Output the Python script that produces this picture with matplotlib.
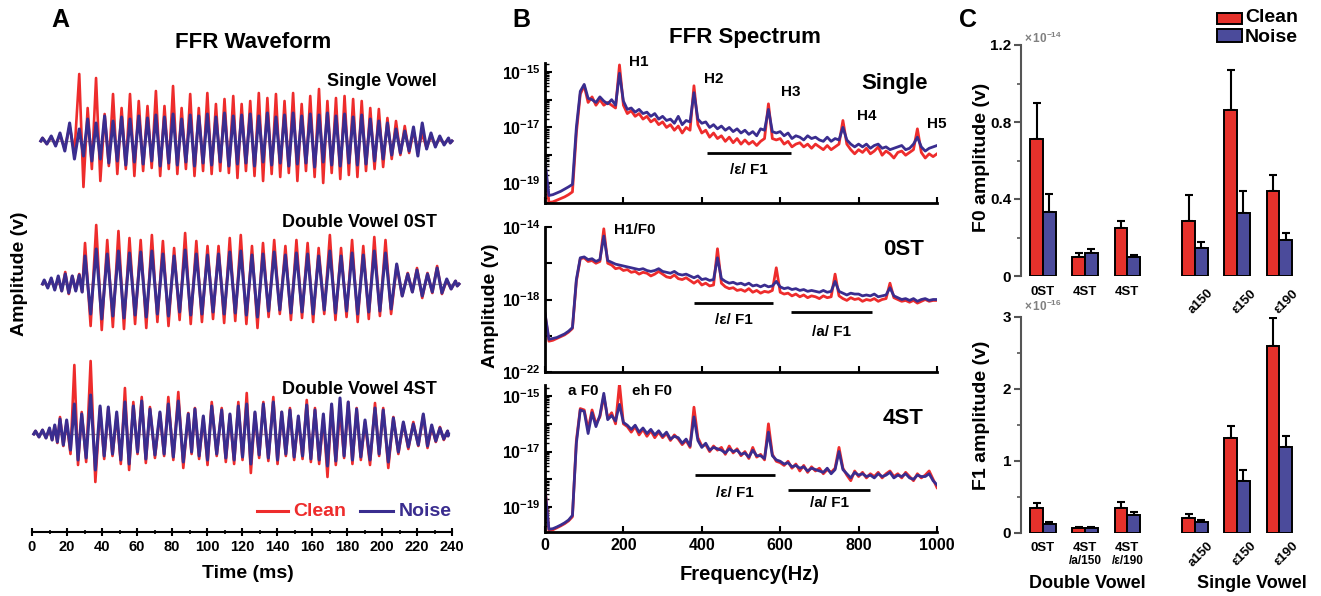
import numpy as np
import matplotlib
matplotlib.use("Agg")
import matplotlib.pyplot as plt
from matplotlib.lines import Line2D
from matplotlib.patches import Rectangle
from matplotlib.ticker import FixedLocator, FuncFormatter, NullFormatter

plt.rcParams["font.family"] = ["Liberation Sans", "DejaVu Sans"]
plt.rcParams["font.weight"] = "bold"
plt.rcParams["mathtext.fontset"] = "custom"
plt.rcParams["mathtext.rm"] = "Liberation Sans"
plt.rcParams["mathtext.bf"] = "Liberation Sans:bold"
plt.rcParams["axes.linewidth"] = 1.5

W, H = 1321, 596
RED = "#EE2C2C"
BLUE = "#3A2D8F"
BAR_RED = "#E5312B"
BAR_BLUE = "#4B4B9B"

# ---------------- A: FFR waveforms (cycle peak times in ms, peak / trough amplitude in a.u.)
sv_t = [6, 11, 16, 21.5, 27, 31.8, 36.6, 41.5, 46.3, 51.2, 56, 61, 66, 70.8, 75.7, 80.6,
        85.5, 90.4, 95.3, 100.2, 105.1, 110, 115, 119.8, 124.7, 129.6, 134.5, 139.4, 144.3,
        149.2, 154.1, 159, 164, 168.8, 173.7, 178.6, 183.5, 188.4, 193.3, 198.2, 203.1, 208,
        213, 218, 223, 228, 233, 238]
sv_clean_pk = [3, 4, 6, 15, 67, 33, 63, 27, 47, 33, 47, 40, 35, 50, 35, 55, 33, 47, 33, 48, 37,
               42, 45, 37, 40, 48, 43, 47, 40, 48, 37, 45, 52, 40, 43, 45, 42, 40, 33, 32, 23,
               20, 15, 10, 7, 5, 3, 2]
sv_clean_tr = [-3, -4, -8, -12, -46, -28, -40, -25, -33, -28, -35, -30, -27, -35, -28, -33, -28,
               -35, -30, -33, -30, -32, -37, -30, -35, -40, -33, -36, -32, -40, -30, -36, -42,
               -32, -38, -34, -36, -30, -28, -26, -18, -14, -12, -9, -7, -5, -3, -2]
sv_noise_pk = [3, 5, 8, 18, 12, 22, 18, 25, 20, 24, 22, 25, 23, 26, 24, 27, 22, 26, 25, 27, 24,
               28, 25, 26, 27, 25, 28, 24, 26, 28, 25, 27, 26, 28, 25, 27, 24, 26, 22, 20, 18,
               12, 10, 14, 18, 8, 5, 3]
sv_noise_tr = [-3, -5, -10, -18, -15, -20, -18, -22, -20, -24, -21, -23, -20, -25, -22, -24, -21,
               -25, -22, -24, -21, -25, -23, -22, -25, -21, -24, -22, -25, -23, -22, -26, -21,
               -24, -25, -22, -24, -23, -20, -18, -14, -12, -10, -15, -8, -6, -4, -2]

d0_t = [7, 11, 15, 19, 23, 27, 30.3, 36.7, 43.0, 49.4, 55.7, 62.1, 68.5, 74.8, 81.2, 87.5, 93.9,
        100.3, 106.6, 113.0, 119.3, 125.7, 132.0, 138.4, 144.8, 151.1, 157.5, 163.8, 170.2,
        176.6, 182.9, 189.3, 195.6, 202.0, 208.4, 214.7, 220, 226, 231.5, 237, 242]
d0_clean_pk = [3, 5, 6, 12, 8, 10, 41, 59, 44, 53, 46, 44, 49, 43, 36, 51, 43, 38, 38, 46, 49,
               38, 41, 44, 38, 44, 41, 36, 49, 36, 44, 38, 47, 44, 19, 11, 16, 11, 18, 4, 3]
d0_clean_tr = [-3, -5, -7, -10, -6, -8, -42, -46, -43, -45, -40, -44, -38, -42, -36, -40, -38,
               -35, -39, -37, -40, -44, -33, -30, -36, -34, -38, -30, -36, -33, -38, -35, -32,
               -30, -12, -8, -14, -9, -10, -5, -2]
d0_noise_pk = [4, 6, 8, 10, 8, 9, 28, 35, 30, 33, 31, 32, 33, 30, 28, 34, 30, 29, 30, 32, 33,
               29, 30, 32, 29, 31, 30, 28, 33, 28, 31, 29, 33, 31, 20, 10, 14, 10, 16, 5, 3]
d0_noise_tr = [-4, -6, -7, -9, -7, -8, -30, -35, -32, -34, -31, -33, -30, -32, -28, -31, -30,
               -28, -30, -29, -31, -33, -27, -26, -29, -28, -30, -26, -29, -27, -30, -28, -27,
               -25, -12, -8, -12, -8, -9, -5, -2]

d4_t = [2, 6, 10, 13, 16.0, 19.8, 24.2, 28.4, 33.5, 38.9, 43.6, 48.4, 53.1, 57.9, 62.7, 67.4,
        73.1, 77.9, 83.6, 89.3, 93.1, 97.9, 102.7, 108.4, 113.1, 117.9, 122.7, 127.4, 132.2,
        137.9, 142.7, 147.4, 152.2, 157.0, 161.7, 166.5, 171.2, 176.0, 180.7, 185.5, 190.3,
        196.0, 200.7, 206.5, 212.2, 217.9, 223.6, 228.4, 233.1, 237.5]
d4_clean_pk = [3, 4, 5, 8, 17, 12, 69, 22, 73, 26, 26, 19, 46, 32, 37, 27, 21, 37, 42, 21, 26,
               17, 32, 26, 19, 32, 41, 21, 32, 37, 22, 26, 16, 34, 26, 17, 29, 24, 32, 26, 12,
               31, 26, 17, 11, 12, 19, 7, 7, 3]
d4_clean_tr = [-3, -4, -6, -9, -12, -20, -31, -28, -48, -25, -22, -30, -36, -20, -29, -24, -22,
               -26, -34, -20, -25, -31, -22, -28, -30, -26, -39, -24, -27, -30, -22, -26, -25,
               -28, -30, -43, -31, -24, -30, -26, -31, -22, -34, -20, -15, -12, -14, -8, -6, -2]
d4_noise_pk = [3, 4, 6, 9, 15, 14, 30, 20, 39, 28, 27, 22, 32, 28, 33, 25, 22, 30, 33, 20, 25,
               18, 28, 24, 20, 28, 30, 22, 30, 32, 22, 24, 18, 29, 24, 20, 30, 36, 32, 25, 14,
               26, 24, 16, 12, 10, 20, 9, 6, 3]
d4_noise_tr = [-3, -4, -6, -8, -11, -16, -26, -24, -36, -22, -20, -26, -30, -18, -25, -21, -20,
               -23, -28, -18, -22, -26, -20, -24, -26, -23, -30, -21, -24, -26, -20, -23, -22,
               -25, -26, -32, -27, -22, -26, -23, -26, -20, -28, -18, -13, -11, -12, -7, -5, -2]

# ---------------- B: FFR spectra, log10 amplitude every 10 Hz (0..1000 Hz)
freq = np.arange(0, 1001, 10)
sg_clean = [-18.35, -19.7, -19.68, -19.62, -19.56, -19.5, -19.42, -19.32, -17.2, -15.8,
            -15.5, -16.1, -15.9, -16.2, -16.0, -16.2, -16.1, -16.2, -16.3, -14.75,
            -16.2, -16.5, -16.4, -16.6, -16.5, -16.7, -16.6, -16.8, -16.7, -16.9,
            -16.8, -17.0, -16.9, -17.1, -16.95, -17.2, -17.0, -17.1, -15.5, -16.9,
            -17.2, -17.1, -17.35, -17.2, -17.4, -17.3, -17.5, -17.35, -17.55, -17.4,
            -17.6, -17.45, -17.6, -17.5, -17.65, -17.5, -17.4, -16.15, -17.4, -17.45,
            -17.4, -17.6, -17.5, -17.7, -17.6, -17.55, -17.7, -17.6, -17.75, -17.6,
            -17.7, -17.8, -17.65, -17.8, -17.7, -17.6, -16.75, -17.6, -17.8, -17.95,
            -17.8, -17.9, -17.75, -17.95, -17.85, -17.7, -18.0, -17.85, -17.95, -18.1,
            -17.9, -17.85, -18.0, -17.9, -17.8, -17.05, -17.9, -18.1, -17.95, -18.05,
            -17.95]
sg_noise = [-18.2, -19.45, -19.42, -19.36, -19.3, -19.22, -19.14, -19.05, -17.0, -15.7,
            -15.45, -15.95, -16.0, -16.1, -15.9, -16.05, -16.15, -16.0, -16.2, -15.05,
            -16.05, -16.35, -16.3, -16.45, -16.35, -16.5, -16.45, -16.6, -16.5, -16.7,
            -16.6, -16.75, -16.7, -16.85, -16.6, -16.9, -16.75, -16.8, -15.75, -16.7,
            -16.85, -16.8, -17.0, -16.9, -17.05, -16.95, -17.1, -17.0, -17.15, -17.05,
            -17.2, -17.1, -17.25, -17.15, -17.3, -17.05, -17.1, -16.35, -17.15, -17.2,
            -17.15, -17.3, -17.2, -17.4, -17.3, -17.35, -17.45, -17.3, -17.4, -17.35,
            -17.45, -17.5, -17.35, -17.5, -17.4, -17.45, -17.0, -17.45, -17.6, -17.7,
            -17.6, -17.7, -17.6, -17.75, -17.65, -17.6, -17.75, -17.7, -17.8, -17.75,
            -17.7, -17.65, -17.8, -17.75, -17.6, -17.35, -17.7, -17.85, -17.75, -17.7,
            -17.65]
d0_clean = [-18.8, -20.3, -20.25, -20.15, -20.05, -19.95, -19.8, -19.6, -17.0, -15.75,
            -15.7, -15.9, -15.85, -16.0, -15.9, -14.1, -16.0, -16.1, -16.3, -16.25,
            -16.4, -16.35, -16.5, -16.45, -16.6, -16.5, -16.55, -16.7, -16.6, -16.45,
            -16.6, -16.75, -16.8, -16.65, -16.85, -16.9, -16.8, -16.95, -17.1, -16.95,
            -17.2, -17.1, -17.25, -17.2, -15.2, -17.1, -17.3, -17.4, -17.35, -17.5,
            -17.45, -17.55, -17.4, -17.6, -17.5, -17.65, -17.55, -17.6, -17.5, -16.25,
            -17.6, -17.7, -17.65, -17.8, -17.7, -17.85, -17.75, -17.9, -17.8, -17.85,
            -17.95, -17.8, -17.9, -17.85, -16.6, -17.8, -17.95, -18.05, -17.9, -18.0,
            -17.95, -18.1, -18.0, -18.05, -17.95, -18.1, -18.0, -17.95, -17.1, -17.9,
            -18.0, -18.1, -18.05, -18.15, -18.05, -18.2, -18.1, -18.0, -18.1, -18.05,
            -18.05]
d0_noise = [-18.75, -20.2, -20.15, -20.1, -20.0, -19.9, -19.75, -19.55, -16.9, -15.7,
            -15.65, -15.8, -15.75, -15.9, -15.8, -14.5, -15.85, -15.95, -16.05, -16.1,
            -16.15, -16.2, -16.25, -16.3, -16.35, -16.3, -16.4, -16.45, -16.4, -16.3,
            -16.45, -16.5, -16.55, -16.45, -16.6, -16.65, -16.6, -16.7, -16.8, -16.7,
            -16.9, -16.85, -16.95, -16.9, -15.7, -16.85, -17.0, -17.1, -17.05, -17.15,
            -17.1, -17.2, -17.1, -17.25, -17.2, -17.3, -17.2, -17.3, -17.25, -17.0,
            -17.3, -17.4, -17.35, -17.45, -17.4, -17.5, -17.45, -17.55, -17.5, -17.55,
            -17.6, -17.5, -17.6, -17.55, -17.0, -17.55, -17.65, -17.75, -17.65, -17.7,
            -17.7, -17.8, -17.75, -17.8, -17.7, -17.85, -17.8, -17.75, -17.35, -17.8,
            -17.9, -18.0, -17.95, -18.05, -17.95, -18.1, -18.0, -17.95, -18.05, -18.0,
            -18.0]
d4_clean = [-18.3, -19.85, -19.82, -19.75, -19.68, -19.6, -19.5, -19.35, -16.6, -15.45,
            -15.5, -16.2, -15.5, -16.0, -15.75, -15.0, -15.8, -15.6, -16.0, -14.55,
            -16.0, -16.1, -16.3, -16.1, -16.4, -16.2, -16.45, -16.25, -16.5, -16.3,
            -16.5, -16.35, -16.6, -16.4, -16.55, -16.75, -16.6, -16.85, -15.4, -16.5,
            -16.8, -16.75, -17.0, -16.8, -16.95, -16.85, -17.1, -16.8, -17.05, -16.9,
            -17.15, -17.0, -17.25, -16.85, -17.2, -17.1, -17.3, -16.0, -17.1, -17.35,
            -17.4, -17.5, -17.35, -17.6, -17.45, -17.7, -17.5, -17.75, -17.55, -17.7,
            -17.6, -17.8, -17.65, -17.75, -17.6, -16.85, -17.6, -17.85, -18.05, -17.7,
            -17.9, -17.75, -17.95, -17.8, -17.9, -17.75, -17.95, -17.8, -17.7, -17.9,
            -17.8, -17.95, -17.75, -17.9, -18.05, -17.8, -17.95, -17.85, -17.7, -18.0,
            -18.3]
d4_noise = [-18.35, -19.8, -19.78, -19.72, -19.65, -19.57, -19.47, -19.3, -16.7, -15.5,
            -15.55, -16.35, -15.6, -16.1, -15.7, -14.9, -15.85, -15.7, -15.9, -15.3,
            -15.95, -16.05, -16.2, -16.05, -16.3, -16.15, -16.35, -16.2, -16.4, -16.25,
            -16.45, -16.3, -16.55, -16.45, -16.5, -16.7, -16.55, -16.8, -15.75, -16.6,
            -16.85, -16.7, -16.95, -16.85, -16.9, -16.95, -17.05, -16.9, -17.0, -16.95,
            -17.1, -17.05, -17.2, -16.95, -17.15, -17.15, -17.25, -16.3, -17.15, -17.3,
            -17.35, -17.45, -17.4, -17.55, -17.5, -17.6, -17.55, -17.7, -17.6, -17.65,
            -17.7, -17.75, -17.6, -17.8, -17.65, -17.0, -17.65, -17.8, -17.95, -17.75,
            -17.85, -17.8, -17.9, -17.85, -17.95, -17.8, -17.9, -17.85, -17.75, -17.95,
            -17.85, -17.9, -17.8, -17.95, -18.0, -17.85, -17.9, -17.9, -17.8, -18.05,
            -18.2]

# ---------------- C: F0 (x1e-14 V) and F1 (x1e-16 V) amplitudes, mean and SEM
conds = ["0ST", "4ST", "4ST", "a150", "\u03b5150", "\u03b5190"]
f1_sub = ["", "/a/150", "/\u03b5/190"]
f0_clean = [0.71, 0.097, 0.25, 0.287, 0.862, 0.443]
f0_clean_err = [0.19, 0.023, 0.035, 0.133, 0.208, 0.08]
f0_noise = [0.33, 0.118, 0.10, 0.145, 0.327, 0.187]
f0_noise_err = [0.095, 0.022, 0.01, 0.03, 0.113, 0.035]
f1_clean = [0.345, 0.07, 0.345, 0.21, 1.32, 2.60]
f1_clean_err = [0.065, 0.02, 0.085, 0.05, 0.17, 0.38]
f1_noise = [0.12, 0.07, 0.25, 0.15, 0.72, 1.19]
f1_noise_err = [0.03, 0.01, 0.04, 0.025, 0.16, 0.16]
bar_pos = np.array([0, 1, 2, 3.6, 4.6, 5.6])


def px(x, y):
    return x / W, 1 - y / H


def box(l, t, r, b):
    return [l / W, 1 - b / H, (r - l) / W, (b - t) / H]


def wave(times, pk, tr, start, end):
    x, y = [start], [0]
    for i, t in enumerate(times):
        nxt = times[i + 1] if i + 1 < len(times) else end
        x += [t, (t + nxt) / 2]
        y += [pk[i], tr[i]]
    x.append(end)
    y.append(0)
    return np.array(x), np.array(y)


fig = plt.figure(figsize=(W / 100, H / 100), dpi=100)

# ================= A
axA = fig.add_axes(box(32, 60, 452, 532))
axA.set_xlim(0, 240)
axA.set_ylim(0, 472)
traces = [(sv_t, sv_clean_pk, sv_clean_tr, sv_noise_pk, sv_noise_tr, 5, 240, 391),
          (d0_t, d0_clean_pk, d0_clean_tr, d0_noise_pk, d0_noise_tr, 6, 244, 248),
          (d4_t, d4_clean_pk, d4_clean_tr, d4_noise_pk, d4_noise_tr, 1, 238, 98)]
for t, cp, ct, npk, ntr, t0, t1, off in traces:
    axA.plot([t0, t1], [off, off], color="0.6", lw=0.9, clip_on=False)
    xc, yc = wave(t, cp, ct, t0, t1)
    xn, yn = wave(t, npk, ntr, t0, t1)
    axA.plot(xc, off + yc, color=RED, lw=1.9, clip_on=False)
    axA.plot(xn, off + yn, color=BLUE, lw=2.2, clip_on=False)
for s in ["left", "top", "right"]:
    axA.spines[s].set_visible(False)
axA.set_yticks([])
axA.set_xticks(np.arange(0, 241, 20))
axA.set_xticks(np.arange(10, 240, 20), minor=True)
axA.tick_params(axis="x", which="major", direction="inout", length=6, width=1.5,
                labelsize=10.5, pad=3)
axA.tick_params(axis="x", which="minor", direction="inout", length=3, width=1.2)

fig.text(*px(60, 20), "A", fontsize=18, ha="center", va="center")
fig.text(*px(253, 42), "FFR Waveform", fontsize=16, ha="center", va="center")
fig.text(*px(437, 82), "Single Vowel", fontsize=13, ha="right", va="center")
fig.text(*px(437, 222), "Double Vowel 0ST", fontsize=13, ha="right", va="center")
fig.text(*px(437, 389), "Double Vowel 4ST", fontsize=13, ha="right", va="center")
fig.text(*px(20, 274), "Amplitude (v)", fontsize=14, rotation=90, ha="center", va="center")
fig.text(*px(248, 573), "Time (ms)", fontsize=14, ha="center", va="center")
fig.add_artist(Line2D([257 / W, 288 / W], [1 - 511 / H] * 2, color=RED, lw=2.2))
fig.text(*px(293, 511), "Clean", color=RED, fontsize=14, ha="left", va="center")
fig.add_artist(Line2D([360 / W, 393 / W], [1 - 511 / H] * 2, color=BLUE, lw=2.2))
fig.text(*px(399, 511), "Noise", color=BLUE, fontsize=14, ha="left", va="center")

# ================= B
spec_axes = [
    (box(545, 63, 937, 203), sg_clean, sg_noise, (-19.72, -14.68), range(-19, -14), (-15, -17, -19), True),
    (box(545, 227, 937, 372), d0_clean, d0_noise, (-22, -14), range(-22, -13, 2), (-14, -18, -22), False),
    (box(545, 385, 937, 532), d4_clean, d4_noise, (-19.9, -14.6), range(-19, -14), (-15, -17, -19), True),
]
bax = []
for rect, cl, nz, ylim, majors, labelled, minors in spec_axes:
    ax = fig.add_axes(rect)
    ax.set_yscale("log")
    ax.plot(freq, 10.0 ** np.array(cl), color=RED, lw=2.0)
    ax.plot(freq, 10.0 ** np.array(nz), color=BLUE, lw=2.0)
    ax.set_xlim(0, 1000)
    ax.set_ylim(10.0 ** ylim[0], 10.0 ** ylim[1])
    ax.yaxis.set_major_locator(FixedLocator([10.0 ** e for e in majors]))
    ax.yaxis.set_major_formatter(FuncFormatter(
        lambda v, p, lab=labelled: r"$\mathbf{10^{%d}}$" % round(np.log10(v))
        if round(np.log10(v)) in lab else ""))
    if minors:
        mins = [k * 10.0 ** e for e in range(-21, -13) for k in range(2, 10)]
        ax.yaxis.set_minor_locator(FixedLocator(mins))
    else:
        ax.yaxis.set_minor_locator(FixedLocator([]))
    ax.yaxis.set_minor_formatter(NullFormatter())
    ax.set_xticks(np.arange(0, 1001, 200))
    for s in ["top", "right"]:
        ax.spines[s].set_visible(False)
    ax.spines["left"].set_linewidth(2)
    ax.spines["bottom"].set_linewidth(2)
    ax.tick_params(axis="y", which="major", direction="in", length=5, width=1.5, labelsize=11.5, pad=3)
    ax.tick_params(axis="y", which="minor", direction="in", length=3, width=1.0)
    ax.tick_params(axis="x", direction="in", length=4, width=1.5, labelsize=11.5, pad=4)
    bax.append(ax)
bax[0].tick_params(axis="x", labelbottom=False)
bax[1].tick_params(axis="x", labelbottom=False)


def lbl(ax, f, e, s, size=11):
    ax.text(f, 10.0 ** e, s, fontsize=size, ha="center", va="center", clip_on=False)


def bracket(ax, f0, f1, e, te, s):
    ax.plot([f0, f1], [10.0 ** e] * 2, color="k", lw=2, solid_capstyle="butt")
    lbl(ax, (f0 + f1) / 2, te, s)


a0, a1, a2 = bax
for f, e, s in [(240, -14.63, "H1"), (430, -15.25, "H2"), (627, -15.72, "H3"),
                (822, -16.6, "H4"), (1000, -16.87, "H5")]:
    lbl(a0, f, e, s)
lbl(a0, 893, -15.4, "Single", 16)
bracket(a0, 414, 627, -17.92, -18.53, "/\u03b5/ F1")
lbl(a1, 228, -14.16, "H1/F0")
lbl(a1, 914, -15.26, "0ST", 16)
bracket(a1, 381, 581, -18.2, -19.15, "/\u03b5/ F1")
bracket(a1, 627, 835, -18.7, -19.8, "/a/ F1")
lbl(a2, 97, -14.8, "a F0")
lbl(a2, 274, -14.8, "eh F0")
lbl(a2, 914, -15.8, "4ST", 16)
bracket(a2, 383, 586, -17.85, -18.5, "/\u03b5/ F1")
bracket(a2, 619, 830, -18.4, -18.85, "/a/ F1")

fig.text(*px(521, 20), "B", fontsize=18, ha="center", va="center")
fig.text(*px(745, 37), "FFR Spectrum", fontsize=16, ha="center", va="center")
fig.text(*px(490, 306), "Amplitude (v)", fontsize=14, rotation=90, ha="center", va="center")
fig.text(*px(750, 575), "Frequency(Hz)", fontsize=14.5, ha="center", va="center")

# ================= C
GRAY = "#555555"
bar_axes = [
    (box(1021, 45, 1300, 276), f0_clean, f0_clean_err, f0_noise, f0_noise_err, 1.2,
     [0, 0.4, 0.8, 1.2], ["0", "0.4", "0.8", "1.2"], [0.2, 0.6, 1.0], -7, -8),
    (box(1021, 317, 1300, 533), f1_clean, f1_clean_err, f1_noise, f1_noise_err, 3,
     [0, 1, 2, 3], ["0", "1", "2", "3"], [0.5, 1.5, 2.5], -6.5, -5),
]
cax = []
for rect, cl, cle, nz, nze, top, ticks, tlabs, mticks, hoff, roff in bar_axes:
    ax = fig.add_axes(rect)
    zeros = np.zeros(len(cl))
    ax.bar(bar_pos - 0.15, cl, width=0.3, color=BAR_RED, edgecolor="k", linewidth=1.4, zorder=2)
    ax.bar(bar_pos + 0.15, nz, width=0.3, color=BAR_BLUE, edgecolor="k", linewidth=1.4, zorder=2)
    ax.errorbar(bar_pos - 0.15, cl, yerr=[zeros, cle], fmt="none", ecolor="k",
                elinewidth=1.5, capsize=3, capthick=1.5, zorder=1)
    ax.errorbar(bar_pos + 0.15, nz, yerr=[zeros, nze], fmt="none", ecolor="k",
                elinewidth=1.5, capsize=3, capthick=1.5, zorder=1)
    ax.set_xlim(-0.52, 6.09)
    ax.set_ylim(0, top)
    for s in ["top", "right", "bottom"]:
        ax.spines[s].set_visible(False)
    ax.spines["left"].set_color(GRAY)
    ax.set_xticks([])
    ax.set_yticks(ticks)
    ax.set_yticklabels(tlabs)
    ax.set_yticks(mticks, minor=True)
    ax.tick_params(axis="y", which="major", length=5, width=1.5, color=GRAY, labelsize=11, pad=2)
    ax.tick_params(axis="y", which="minor", length=3, width=1.2, color=GRAY)
    for i in range(3):
        ax.annotate(conds[i], (bar_pos[i], 0), xycoords=("data", "axes fraction"),
                    xytext=(0, hoff), textcoords="offset points", ha="center", va="top",
                    fontsize=9.5, annotation_clip=False)
    for i in range(3, 6):
        ax.annotate(conds[i], (bar_pos[i] + 0.3, 0), xycoords=("data", "axes fraction"),
                    xytext=(0, roff), textcoords="offset points", ha="right", va="top",
                    rotation=45, rotation_mode="anchor", fontsize=9.5, annotation_clip=False)
    cax.append(ax)
for i in (1, 2):
    cax[1].annotate(f1_sub[i], (bar_pos[i], 0), xycoords=("data", "axes fraction"),
                    xytext=(0, -15.5), textcoords="offset points", ha="center", va="top",
                    fontsize=8.5, annotation_clip=False)

fig.text(*px(968, 20), "C", fontsize=18, ha="center", va="center")
fig.text(*px(982, 157), "F0 amplitude (v)", fontsize=14, rotation=90, ha="center", va="center")
fig.text(*px(982, 415), "F1 amplitude (v)", fontsize=14, rotation=90, ha="center", va="center")
fig.text(*px(1024, 38), r"$\times\,10^{-14}$", color="0.5", fontsize=8.5, ha="left", va="center",
         fontweight="normal")
fig.text(*px(1024, 306), r"$\times\,10^{-16}$", color="0.5", fontsize=8.5, ha="left", va="center",
         fontweight="normal")
fig.text(*px(1087, 583), "Double Vowel", fontsize=13, ha="center", va="center")
fig.text(*px(1252, 583), "Single Vowel", fontsize=13, ha="center", va="center")
fig.add_artist(Rectangle((1217 / W, 1 - 24 / H), 25 / W, 11 / H, transform=fig.transFigure,
                         facecolor=BAR_RED, edgecolor="k", lw=1.4))
fig.add_artist(Rectangle((1217 / W, 1 - 42 / H), 25 / W, 13 / H, transform=fig.transFigure,
                         facecolor=BAR_BLUE, edgecolor="k", lw=1.4))
fig.text(*px(1245, 18), "Clean", fontsize=14, ha="left", va="center")
fig.text(*px(1245, 37), "Noise", fontsize=14, ha="left", va="center")

fig.savefig("out.png", dpi=100, facecolor="white")
